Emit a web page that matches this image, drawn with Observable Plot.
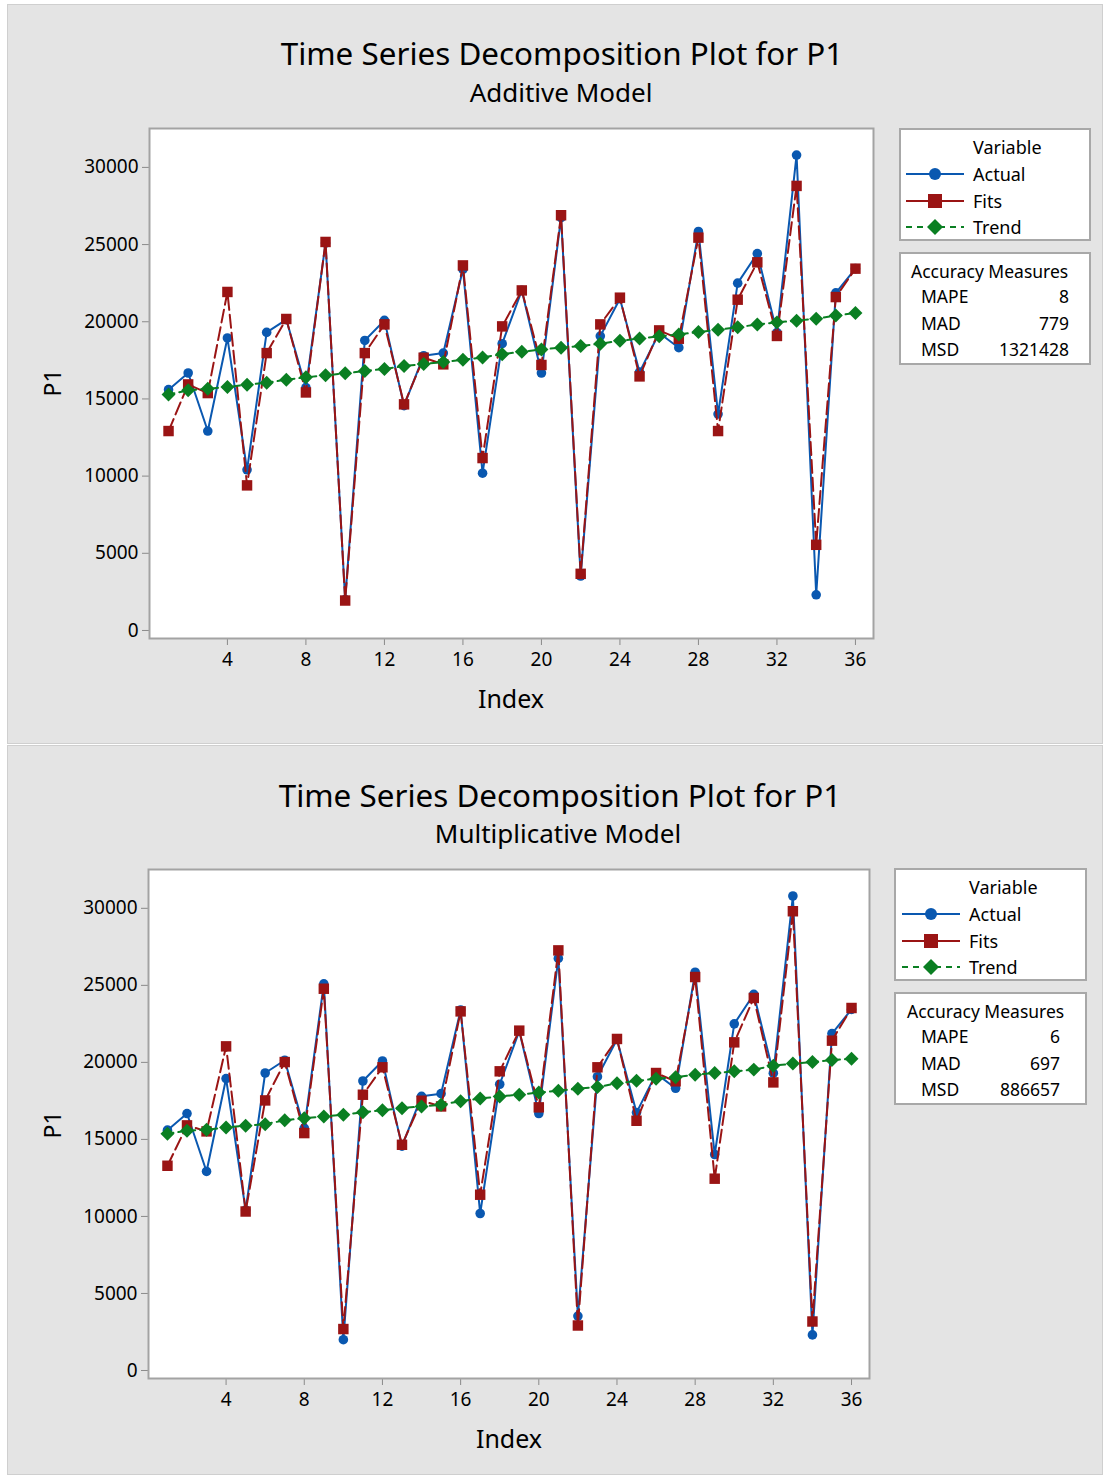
<!DOCTYPE html>
<html><head><meta charset="utf-8">
<script src="https://cdn.jsdelivr.net/npm/d3@7"></script>
<script src="https://cdn.jsdelivr.net/npm/@observablehq/plot@0.6"></script>
<style>
body{margin:0;background:#fff;font-family:"Noto Sans",sans-serif;}
#root{position:relative;width:1103px;height:1475px;overflow:hidden;background:#fff}
.panel{position:absolute;background:#e4e4e4;border:1px solid #cfcfcf;box-sizing:border-box}
.abs{position:absolute;white-space:nowrap;color:#000;line-height:1}
.c{transform:translate(-50%,-50%)}
.lc{transform:translate(0,-50%)}
.rc{transform:translate(-100%,-50%)}
.box{position:absolute;background:#fff;border:2px solid #a8a8a8;box-sizing:border-box}
.plotwrap{position:absolute}
</style></head>
<body><div id="root"></div>
<script>
// ---- data ----
const index = [1,2,3,4,5,6,7,8,9,10,11,12,13,14,15,16,17,18,19,20,21,22,23,24,25,26,27,28,29,30,31,32,33,34,35,36];
const actual = [15600,16680,12920,18950,10410,19310,20140,15730,25100,2000,18790,20090,14560,17800,17970,23400,10190,18580,22030,16680,26750,3530,19070,21490,16740,19270,18320,25850,14020,22500,24420,19300,30800,2310,21870,23440];
const additiveFits = [12920,15940,15380,21930,9400,17970,20180,15420,25170,1940,17970,19830,14650,17670,17240,23650,11170,19700,22030,17200,26900,3670,19830,21560,16460,19440,18900,25450,12920,21430,23850,19080,28800,5550,21600,23440];
const additiveTrend = [15290,15560,15660,15770,15920,16050,16250,16400,16530,16660,16810,16940,17130,17260,17390,17540,17690,17900,18060,18210,18320,18430,18580,18770,18920,19060,19180,19330,19480,19650,19820,19960,20070,20200,20410,20560];
const multFits = [13290,15910,15520,21040,10320,17530,20020,15410,24780,2690,17900,19680,14650,17510,17140,23310,11410,19420,22060,17080,27270,2920,19680,21520,16210,19310,18770,25540,12450,21300,24180,18700,29810,3180,21410,23530];
const multTrend = [15370,15560,15630,15780,15890,15990,16240,16380,16490,16600,16770,16900,17030,17140,17250,17480,17660,17790,17900,18050,18160,18290,18400,18640,18800,18940,19040,19200,19310,19420,19530,19780,19920,20020,20150,20240];
const yTicks = [0,5000,10000,15000,20000,25000,30000];
const xTicks = [4,8,12,16,20,24,28,32,36];
const titleText = "Time Series Decomposition Plot for P1";
const subtitles = ["Additive Model","Multiplicative Model"];
const seriesNames = ["Actual","Fits","Trend"];
const measureNames = ["MAPE","MAD","MSD"];
const additiveMeasures = ["8","779","1321428"];
const multMeasures = ["6","697","886657"];

const BLUE="#0a58b0", RED="#9a1414", GREEN="#0a7f22";
const root = document.getElementById("root");

function el(tag, cls, css, html){const e=document.createElement(tag); if(cls) e.className=cls; Object.assign(e.style, css||{}); if(html!=null) e.innerHTML=html; root.appendChild(e); return e;}

function chart(fits, trend, cfg){
  const rows = index.map((i,k)=>({i, actual:actual[k], fits:fits[k], trend:trend[k]}));
  return Plot.plot({
    width: cfg.w, height: cfg.h,
    marginTop: cfg.mt, marginBottom: cfg.mb, marginLeft: cfg.ml, marginRight: cfg.mr,
    x: {domain:[0.03,36.92]},
    y: {domain:[-520,32520]},
    style: {fontFamily:'"Noto Sans",sans-serif', fontSize:"19px", color:"#000", background:"transparent", overflow:"visible"},
    marks: [
      Plot.frame({fill:"white", stroke:null}),
      Plot.axisY({ticks:yTicks, tickSize:7, tickPadding:4, stroke:"#8a8a8a", fill:"#000", label:null, tickFormat:d3.format("d"), fontSize:19}),
      Plot.axisX({ticks:xTicks, tickSize:7, tickPadding:7, stroke:"#8a8a8a", fill:"#000", label:null, tickFormat:d3.format("d"), fontSize:19}),
      Plot.line(rows,{x:"i",y:"actual",stroke:BLUE,strokeWidth:2}),
      Plot.dot(rows,{x:"i",y:"actual",r:4.8,fill:BLUE,symbol:"circle"}),
      Plot.line(rows,{x:"i",y:"fits",stroke:RED,strokeWidth:2,strokeDasharray:"13,5"}),
      Plot.dot(rows,{x:"i",y:"fits",r:5.9,fill:RED,symbol:"square"}),
      Plot.line(rows,{x:"i",y:"trend",stroke:GREEN,strokeWidth:2,strokeDasharray:"6,5"}),
      Plot.dot(rows,{x:"i",y:"trend",r:6.3,fill:GREEN,symbol:"diamond2"}),
      Plot.frame({stroke:"#a3a3a3", strokeWidth:2})
    ]
  });
}

function legendSym(kind){
  const stroke = kind===0?BLUE:kind===1?RED:GREEN;
  const dash = kind===2?'stroke-dasharray="6,5"':'';
  let m;
  if(kind===0) m=`<circle cx="29" cy="8" r="6" fill="${BLUE}"/>`;
  else if(kind===1) m=`<rect x="22" y="1" width="14" height="14" fill="${RED}"/>`;
  else m=`<polygon points="29,0 37,8 29,16 21,8" fill="${GREEN}"/>`;
  return `<svg width="58" height="16" style="display:block"><line x1="0" y1="8" x2="58" y2="8" stroke="${stroke}" stroke-width="2" ${dash}/>${m}</svg>`;
}

function panel(p){
  el("div","panel",{left:p.px+"px",top:p.py+"px",width:p.pw+"px",height:p.ph+"px"});
  el("div","abs c",{left:p.tx+"px",top:p.ty+"px",fontSize:"31.4px"},titleText);
  el("div","abs c",{left:p.sx+"px",top:p.sy+"px",fontSize:"26px"},p.sub);
  const w = el("div","plotwrap",{left:"0px",top:p.svgTop+"px"});
  w.appendChild(chart(p.fits,p.trend,p.cfg));
  el("div","abs c",{left:p.ix+"px",top:p.iy+"px",fontSize:"25px"},"Index");
  el("div","abs c",{left:p.lx+"px",top:p.ly+"px",fontSize:"23px",transform:"translate(-50%,-50%) rotate(-90deg)"},"P1");
  const b1 = el("div","box",{left:p.bx+"px",top:p.b1y+"px",width:p.bw+"px",height:"113px"});
  const add=(parent,cls,css,html)=>{const e=document.createElement("div"); e.className=cls; Object.assign(e.style,css); e.innerHTML=html; parent.appendChild(e); return e;};
  add(b1,"abs lc",{left:(p.vx)+"px",top:"17px",fontSize:"18px"},"Variable");
  seriesNames.forEach((n,k)=>{
    add(b1,"abs lc",{left:p.vx+"px",top:(44+k*26.5)+"px",fontSize:"18px"},n);
    add(b1,"abs lc",{left:p.symx+"px",top:(44+k*26.5)+"px"},legendSym(k));
  });
  const b2 = el("div","box",{left:p.bx+"px",top:p.b2y+"px",width:p.bw+"px",height:"113px"});
  add(b2,"abs lc",{left:p.ax+"px",top:"18px",fontSize:"17.5px"},"Accuracy Measures");
  measureNames.forEach((n,k)=>{
    add(b2,"abs lc",{left:p.mx+"px",top:(43+k*26.5)+"px",fontSize:"17.5px"},n);
    add(b2,"abs rc",{left:p.vr+"px",top:(43+k*26.5)+"px",fontSize:"17.5px"},p.meas[k]);
  });
}

panel({px:7,py:4,pw:1096,ph:740, tx:562,ty:53, sx:561,sy:92, sub:subtitles[0],
  svgTop:110, cfg:{w:880,h:610,mt:18,mb:82,ml:149,mr:7}, fits:additiveFits, trend:additiveTrend,
  ix:511, iy:698, lx:52, ly:383,
  bx:899, bw:192, b1y:128, b2y:252, vx:72, symx:5, ax:10, mx:20, vr:168, meas:additiveMeasures});

panel({px:7,py:745,pw:1096,ph:730, tx:560,ty:795, sx:558,sy:833, sub:subtitles[1],
  svgTop:851, cfg:{w:880,h:610,mt:18,mb:83,ml:148,mr:11}, fits:multFits, trend:multTrend,
  ix:509, iy:1438, lx:52, ly:1125,
  bx:894, bw:193, b1y:868, b2y:992, vx:73, symx:6, ax:11, mx:25, vr:164, meas:multMeasures});
</script></body></html>
